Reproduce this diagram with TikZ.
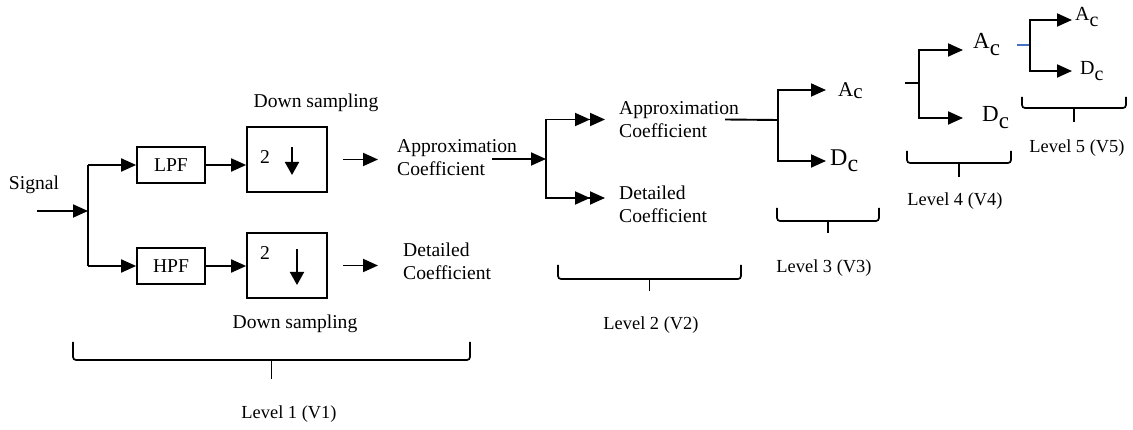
\documentclass[tikz,border=0pt]{standalone}
\usepackage{fontspec}
\setmainfont{Liberation Serif}
\usepackage{xcolor}
\usetikzlibrary{arrows.meta}
\usetikzlibrary{positioning,calc}
\definecolor{stubblue}{RGB}{68,114,196}
\tikzset{
    blockbox/.style={
        draw,
        line width=1.7pt,
        minimum width=68pt,
        minimum height=36pt,
        inner sep=0pt,
        font=\fontsize{19.6}{22}\selectfont
    },
    dsbox/.style={
        draw,
        line width=1.7pt,
        minimum width=80pt,
        minimum height=65pt,
        inner sep=0pt
    },
    txt/.style={inner sep=0pt, align=left, font=\fontsize{19.6}{23}\selectfont},
    lvl/.style={inner sep=0pt, font=\fontsize{18.4}{21}\selectfont},
    coefnode/.style={inner sep=0pt, anchor=west},
    line/.style={line width=1.9pt},
    arr/.style={line width=1.9pt, -{Triangle[length=15pt,width=13pt]}},
    darr/.style={line width=1.9pt, -{Triangle[length=15pt,width=13pt]Triangle[length=15pt,width=13pt]}},
    dsarr/.style={line width=1.9pt, -{Triangle[length=13pt,width=14pt]}},
    bracket/.style={line width=1.7pt, rounded corners=3pt}
}
\newcommand{\levelbrace}[5]{%
    \draw[bracket] (#1,#3) -- (#1,#4) -- (#2,#4) -- (#2,#3);
    \draw[bracket] ({(#1+#2)/2},#4) -- ({(#1+#2)/2},#5);
}
\newcommand{\subc}[2]{#1\raisebox{#2}{c}}

\begin{document}
\begin{tikzpicture}[x=1pt,y=-1pt]
    \useasboundingbox (0,0) rectangle (1133,430);

    % level 1: filters and down sampling
    \node[txt] (signal) at (34,185) {Signal};
    \coordinate (in) at (37,211);
    \coordinate (split1) at (88,211);
    \node[blockbox] (lpf) at (171,165) {LPF};
    \node[blockbox] (hpf) at (171,266) {HPF};
    \node[dsbox] (ds1) at (287,159.5) {};
    \node[dsbox] (ds2) at (287,265.5) {};
    \node[txt] (two1) at (265,157) {2};
    \node[txt] (two2) at (265,253) {2};
    \node[txt] (dslabel1) at (316,103) {Down sampling};
    \node[txt] (dslabel2) at (295,324) {Down sampling};

    \draw[arr] (in) -- (split1);
    \draw[line] (split1 |- lpf.west) -- (split1 |- hpf.west);
    \draw[arr] (split1 |- lpf.west) -- (lpf.west);
    \draw[arr] (split1 |- hpf.west) -- (hpf.west);
    \draw[arr] (lpf.east) -- (lpf.east -| ds1.west);
    \draw[arr] (hpf.east) -- (hpf.east -| ds2.west);
    \draw[dsarr] ([xshift=5pt,yshift=12.5pt]ds1.center) -- ([xshift=5pt,yshift=-15.5pt]ds1.center);
    \draw[dsarr] ([xshift=10pt,yshift=16.5pt]ds2.center) -- ([xshift=10pt,yshift=-19.5pt]ds2.center);

    \node[txt, anchor=west] (approx1) at (397,158) {Approximation\\Coefficient};
    \node[txt, anchor=west] (detail1) at (403,261.5) {Detailed\\Coefficient};
    \draw[arr] ([xshift=15pt]ds1.east) -- ([xshift=-19pt]approx1.west |- ds1.east);
    \draw[arr] ([xshift=15pt]ds2.east) -- ([xshift=-25pt]detail1.west |- ds2.east);

    % level 2
    \coordinate (split2) at (546,159);
    \node[txt, anchor=west] (approx2) at (619,119.5) {Approximation\\Coefficient};
    \node[txt, anchor=west] (detail2) at (619,204) {Detailed\\Coefficient};
    \draw[arr] ([xshift=-25pt]approx1.east |- split2) -- (split2);
    \draw[darr] (split2) |- ([xshift=-14pt]approx2.west);
    \draw[darr] (split2) |- ([xshift=-14pt,yshift=6pt]detail2.west);

    % level 3
    \coordinate (split3) at (778,120);
    \node[coefnode, font=\fontsize{21}{23}\selectfont] (a3) at (838,91) {\subc{A}{-2pt}};
    \node[coefnode, font=\fontsize{24}{26}\selectfont] (d3) at (830,161) {\subc{D}{-6pt}};
    \draw[line] ([xshift=-14pt]approx2.east) -- (split3);
    \draw[arr] (split3) |- ([xshift=-12pt,yshift=1pt]a3.west);
    \draw[arr] (split3) |- ([xshift=-4pt]d3.west);

    % level 4
    \coordinate (stub4) at (905,83);
    \coordinate (split4) at (919,83);
    \node[coefnode, font=\fontsize{23}{25}\selectfont] (a4) at (973,45) {\subc{A}{-7pt}};
    \node[coefnode, font=\fontsize{23}{25}\selectfont] (d4) at (982,118) {\subc{D}{-7pt}};
    \draw[line] (stub4) -- (split4);
    \draw[arr] (split4) |- ([xshift=-10pt,yshift=-5pt]a4.west);
    \draw[arr] (split4) |- ([xshift=-19pt]d4.west);

    % level 5
    \coordinate (stub5) at (1017,45);
    \coordinate (split5) at (1030,45);
    \node[coefnode, font=\fontsize{20}{22}\selectfont] (a5) at (1075,17) {\subc{A}{-6pt}};
    \node[coefnode, font=\fontsize{20}{22}\selectfont] (d5) at (1080,71) {\subc{D}{-6pt}};
    \draw[line, stubblue] (stub5) -- (split5);
    \draw[arr] (split5) |- ([xshift=-3pt,yshift=-3pt]a5.west);
    \draw[arr] (split5) |- ([xshift=-8pt]d5.west);

    % level braces
    \levelbrace{73}{470}{342}{360}{379}
    \levelbrace{558}{741}{265}{279}{291}
    \levelbrace{777}{879}{208}{221}{233}
    \levelbrace{907}{1011}{151}{163}{177}
    \levelbrace{1022}{1126}{97}{108}{122}
    \node[lvl] (lv1) at (289,414) {Level 1 (V1)};
    \node[lvl] (lv2) at (651,325) {Level 2 (V2)};
    \node[lvl] (lv3) at (824,268) {Level 3 (V3)};
    \node[lvl] (lv4) at (955,201) {Level 4 (V4)};
    \node[lvl] (lv5) at (1077,148) {Level 5 (V5)};
\end{tikzpicture}
\end{document}
